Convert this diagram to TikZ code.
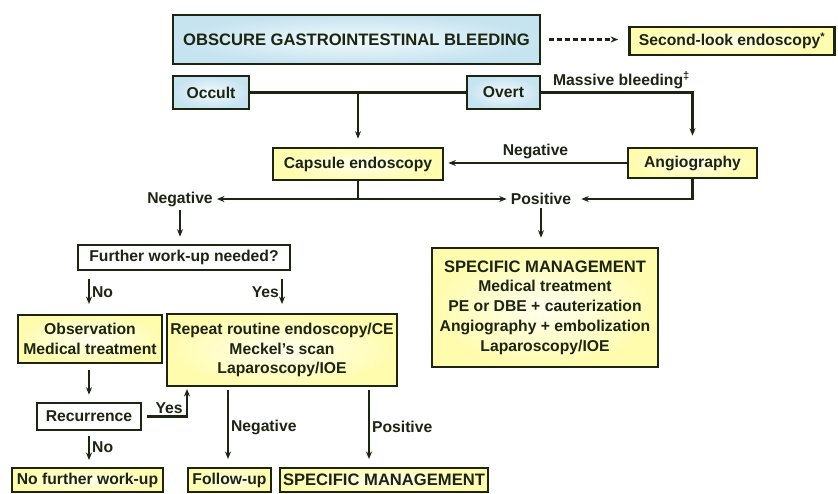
\documentclass[tikz,border=0pt]{standalone}
\usepackage{fontspec}
\setmainfont{Liberation Sans}
\usetikzlibrary{arrows.meta,calc}
\definecolor{ink}{HTML}{1B2512}
\definecolor{yin}{HTML}{FFFFF0}
\definecolor{yout}{HTML}{FFFCAE}
\definecolor{bin}{HTML}{F2FAFD}
\definecolor{bout}{HTML}{C6E3F0}
\newcommand{\capsfont}{\fontsize{16.6}{19.8}\selectfont}
\begin{document}
\begin{tikzpicture}[x=1pt,y=-1pt,
  every node/.style={text=ink,font=\fontsize{15.7}{19.8}\selectfont\bfseries},
  box/.style={draw=ink,line width=2.7pt,inner sep=0pt,align=center},
  ybox/.style={box,inner color=yin,outer color=yout},
  bbox/.style={box,inner color=bin,outer color=bout},
  wbox/.style={box,fill=white},
  lbl/.style={inner sep=2pt},
  conn/.style={draw=ink,line width=2.2pt},
  arr/.style={conn,-{Stealth[length=7.5pt,width=6pt]}},
  sarr/.style={arr,shorten <=7pt,shorten >=7pt}
]
\useasboundingbox (0,0) rectangle (838,493);

% nodes
\node[bbox,minimum width=367pt,minimum height=49pt,font=\capsfont\bfseries] (obgi) at (356.5,39.5) {OBSCURE GASTROINTESTINAL BLEEDING};
\node[ybox,minimum width=205pt,minimum height=28pt] (second) at (732,41) {Second-look endoscopy\textsuperscript{*}};
\node[bbox,minimum width=76pt,minimum height=33pt] (occult) at (211,92.5) {Occult};
\node[bbox,minimum width=73pt,minimum height=33pt] (overt) at (503.5,92.5) {Overt};
\node[ybox,minimum width=170pt,minimum height=32pt] (capsule) at (358,164) {Capsule endoscopy};
\node[ybox,minimum width=129pt,minimum height=30pt] (angio) at (692.5,163) {Angiography};
\node[lbl] (neg1) at (180,199) {Negative};
\node[lbl] (pos1) at (541,199) {Positive};
\node[ybox,minimum width=226pt,minimum height=119pt] (spec) at (545,307.5) {{\capsfont SPECIFIC MANAGEMENT}\\Medical treatment\\PE or DBE + cauterization\\Angiography + embolization\\Laparoscopy/IOE};
\node[wbox,minimum width=212pt,minimum height=25pt] (further) at (184,257.5) {Further work-up needed?};
\node[ybox,minimum width=144pt,minimum height=48pt] (obs) at (90,339) {Observation\\Medical treatment};
\node[ybox,minimum width=230pt,minimum height=72pt] (repeat) at (282,350) {Repeat routine endoscopy/CE\\Meckel's scan\\Laparoscopy/IOE};
\node[wbox,minimum width=104pt,minimum height=27pt] (recur) at (89,416.5) {Recurrence};
\node[ybox,minimum width=151pt,minimum height=24pt] (nofurther) at (87.5,480) {No further work-up};
\node[ybox,minimum width=83pt,minimum height=24pt] (follow) at (229.5,480) {Follow-up};
\node[ybox,minimum width=208pt,minimum height=24pt,font=\capsfont\bfseries] (spec2) at (384,480) {SPECIFIC MANAGEMENT};

% connectors
\draw[arr,dashed,dash pattern=on 5pt off 3pt,shorten <=8pt,shorten >=10pt] (obgi.east) -- (second.west |- obgi.east);
\draw[conn] (occult.east) -- (overt.west);
\draw[arr,shorten >=8pt] (capsule.north |- occult.east) -- (capsule.north);
\draw[arr,shorten >=11pt] (overt.east) -| node[pos=0.265,above,lbl,yshift=1pt] {Massive bleeding\textsuperscript{‡}} (angio.north);
\draw[arr,shorten >=4pt] (angio.west) -- node[above,lbl,yshift=1pt] {Negative} (capsule.east |- angio.west);
\coordinate (cj) at (capsule.south |- neg1);
\draw[conn] (capsule.south) -- (cj);
\draw[arr,shorten >=2pt] (cj) -- (neg1.east);
\draw[arr,shorten >=2pt] (cj) -- (pos1.west);
\draw[arr,shorten >=8pt] (angio.south) |- (pos1.east);
\draw[arr,shorten <=9pt,shorten >=9pt] (pos1.center) -- (pos1.center |- spec.north);
\draw[arr,shorten <=11pt,shorten >=7pt] (neg1.center) -- (neg1.center |- further.north);
\draw[sarr,shorten <=9pt,shorten >=11pt] (89,270) -- node[right,lbl] {No} (89,315);
\draw[sarr,shorten <=9pt,shorten >=10pt] (282,270) -- node[left,lbl] {Yes} (282,314);
\draw[sarr] (89,363) -- (recur.north);
\draw[arr,shorten <=5pt,shorten >=3pt] (recur.east) -| node[pos=0.3,above,lbl] {Yes} (187,386);
\coordinate (rb) at (89,430);
\coordinate (nt) at (89,468);
\draw[arr,shorten <=6pt,shorten >=8pt] (rb) -- (nt);
\node[lbl,anchor=west] (nolbl) at (90,447) {No};
\draw[sarr,shorten <=4pt,shorten >=9pt] (228,386) -- node[right,lbl] {Negative} (228,468);
\draw[sarr,shorten <=4pt,shorten >=9pt] (369,386) -- node[right,lbl] {Positive} (369,468);
\end{tikzpicture}
\end{document}
